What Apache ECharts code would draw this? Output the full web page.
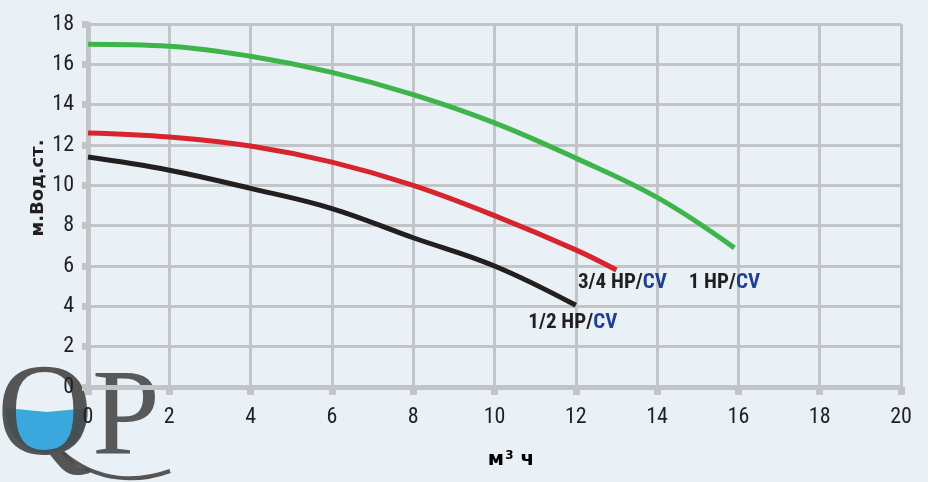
<!DOCTYPE html>
<html>
<head>
<meta charset="utf-8">
<script src="https://cdn.jsdelivr.net/npm/echarts@6/dist/echarts.min.js"></script>
<style>
  html, body { margin: 0; padding: 0; background: #e9f1f7; }
  #chart { width: 928px; height: 482px; }
</style>
</head>
<body>
<div id="chart"></div>
<script>
  // расход, м3/ч
  var flowHalf = [0, 2, 4, 6, 8, 10, 12];
  var flowThreeQuarter = [0, 2, 4, 6, 8, 10, 12, 13];
  var flowOne = [0, 2, 4, 6, 8, 10, 12, 14, 15.9];

  // напор, м.вод.ст.
  var headHalf = [11.4, 10.75, 9.85, 8.85, 7.4, 6.0, 4.05];
  var headThreeQuarter = [12.6, 12.4, 11.95, 11.15, 10.0, 8.5, 6.8, 5.8];
  var headOne = [17.0, 16.9, 16.4, 15.6, 14.5, 13.1, 11.35, 9.4, 6.9];

  var seriesNames = ['1/2 HP/', '3/4 HP/', '1 HP/'];
  var xTicks = [0, 2, 4, 6, 8, 10, 12, 14, 16, 18, 20];
  var yTicks = [0, 2, 4, 6, 8, 10, 12, 14, 16, 18];

  function pairs(xs, ys) {
    return xs.map(function (x, i) { return [x, ys[i]]; });
  }

  var gridColor = '#c3c4c7';
  var font = '"Liberation Sans Narrow", "Roboto Condensed", "Liberation Sans", sans-serif';
  var boldWide = '"DejaVu Sans", "Liberation Sans", Arial, sans-serif';

  function endLabel(name, offset) {
    return {
      show: true,
      formatter: '{a|' + name + '}{b|CV}',
      offset: offset,
      align: 'center',
      verticalAlign: 'middle',
      rich: {
        a: { fontFamily: font, fontWeight: 'bold', fontSize: 21, color: '#231f20' },
        b: { fontFamily: font, fontWeight: 'bold', fontSize: 21, color: '#1f3f93' }
      }
    };
  }

  function makeLine(name, xs, ys, color, offset) {
    return {
      name: name,
      type: 'line',
      smooth: 0.4,
      showSymbol: false,
      symbol: 'none',
      data: pairs(xs, ys),
      lineStyle: { color: color, width: 5, cap: 'butt' },
      endLabel: endLabel(name, offset),
      z: 3
    };
  }

  var myChart = echarts.init(document.getElementById('chart'));
  var option = {
    backgroundColor: '#e9f1f7',
    animation: false,
    grid: { left: 88, right: 27, top: 24, bottom: 95 },
    xAxis: {
      type: 'value',
      min: xTicks[0],
      max: xTicks[xTicks.length - 1],
      interval: 2,
      axisLine: { show: true, lineStyle: { color: gridColor, width: 5 } },
      axisTick: { show: true, length: 8, lineStyle: { color: gridColor, width: 7 } },
      axisLabel: { margin: 19, fontFamily: font, fontSize: 22, color: '#231f20' },
      splitLine: { show: true, lineStyle: { color: gridColor, width: 3 } }
    },
    yAxis: {
      type: 'value',
      min: yTicks[0],
      max: yTicks[yTicks.length - 1],
      interval: 2,
      axisLine: { show: true, lineStyle: { color: gridColor, width: 5 } },
      axisTick: { show: true, length: 6, lineStyle: { color: gridColor, width: 7 } },
      axisLabel: { margin: 14, fontFamily: font, fontSize: 22, color: '#231f20' },
      splitLine: { show: true, lineStyle: { color: gridColor, width: 3 } }
    },
    graphic: [
      {
        type: 'text',
        x: 38, y: 188,
        rotation: Math.PI / 2,
        style: {
          text: 'м.Вод.ст.',
          font: 'bold 18px ' + boldWide,
          fill: '#231f20',
          align: 'center',
          verticalAlign: 'middle'
        }
      },
      {
        type: 'text',
        x: 511, y: 460,
        style: {
          text: '{a|м}{s|3}{a| ч}',
          align: 'center',
          verticalAlign: 'middle',
          rich: {
            a: { fontFamily: boldWide, fontWeight: 'bold', fontSize: 20, color: '#231f20' },
            s: { fontFamily: boldWide, fontWeight: 'bold', fontSize: 12, color: '#231f20', padding: [0, 0, 9, 1] }
          }
        }
      },
      {
        type: 'sector',
        z: -1,
        shape: { cx: 47, cy: 412, r: 41, r0: 0, startAngle: -0.1, endAngle: Math.PI + 0.1 },
        style: { fill: '#3aa7dd' }
      },
      {
        type: 'bezierCurve',
        z: -1,
        shape: { x1: 62, y1: 452, cpx1: 98, cpy1: 484, cpx2: 140, cpy2: 482, x2: 170, y2: 471 },
        style: { stroke: 'rgba(72,72,72,0.92)', lineWidth: 4, fill: null }
      },
      {
        type: 'text',
        z: -1,
        x: -3, y: 353,
        style: {
          text: 'Q',
          font: '132px "Liberation Serif", "DejaVu Serif", serif',
          fill: 'rgba(72,72,72,0.92)'
        }
      },
      {
        type: 'text',
        z: -1,
        x: 92, y: 361,
        style: {
          text: 'P',
          font: '122px "Liberation Serif", "DejaVu Serif", serif',
          fill: 'rgba(72,72,72,0.9)'
        }
      }
    ],
    series: [
      makeLine(seriesNames[0], flowHalf, headHalf, '#231f20', [-11, 17]),
      makeLine(seriesNames[1], flowThreeQuarter, headThreeQuarter, '#d7242d', [-2, 13]),
      makeLine(seriesNames[2], flowOne, headOne, '#3db54a', [-18, 35])
    ]
  };
  myChart.setOption(option);
</script>
</body>
</html>
